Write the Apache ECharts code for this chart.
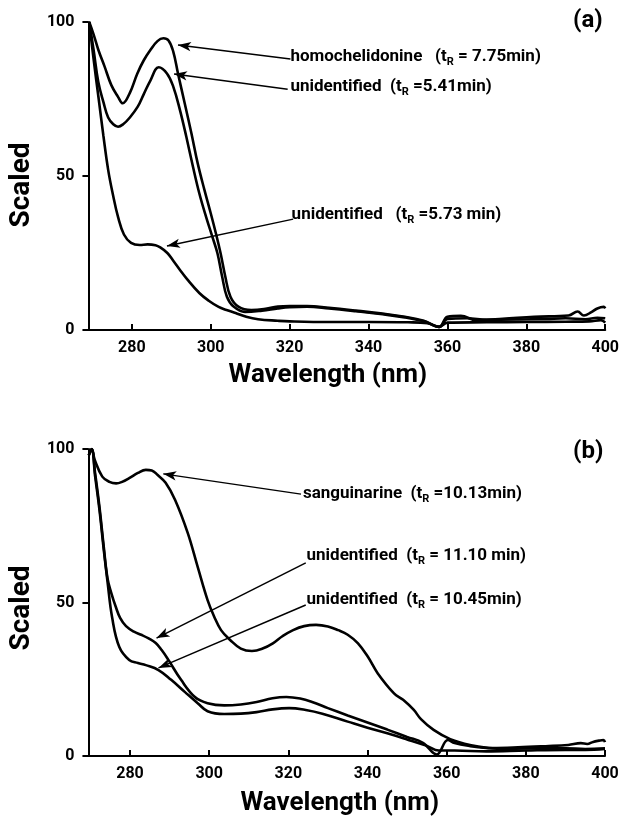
<!DOCTYPE html>
<html>
<head>
<meta charset="utf-8">
<script src="https://cdn.jsdelivr.net/npm/echarts@6/dist/echarts.min.js"></script>
<style>
  html, body { margin: 0; padding: 0; background: #fff; }
  #chart { width: 622px; height: 817px; }
</style>
</head>
<body>
<div id="chart"></div>
<script>
// ---------- data ----------
const xTicks = [280, 300, 320, 340, 360, 380, 400];
const yTicks = [0, 50, 100];

// panel (a)
const homoX = [269.2, 270.3, 271.5, 273.1, 274.8, 276.5, 277.7, 279.5, 281.4, 283, 284.7, 286.5, 288, 289.3, 290.5, 291.7, 293.4, 295.1, 296.7, 298.4, 300, 301.3, 302.5, 303.7, 305, 307, 310.3, 313.5, 317, 320, 324.4, 330, 336.8, 343, 349.2, 354, 357.9, 360, 363.4, 367.3, 374, 382, 390.7, 393, 394.6, 396.5, 398, 399.6, 400];
const homoY = [100, 96, 91, 85.5, 79.5, 75.7, 73.6, 77, 83.3, 87.5, 90.9, 93.8, 94.7, 94, 90.4, 83.3, 73.6, 63.9, 54.1, 45.5, 37.9, 31.4, 24.9, 17.3, 10.8, 7.6, 6.5, 6.8, 7.6, 7.8, 7.8, 7.2, 6.3, 5.4, 4.3, 3, 1, 4.3, 4.6, 3.2, 3.6, 4.3, 4.7, 6, 4.7, 5.8, 7, 7.5, 7];

const u541X = [269.2, 270.3, 271.5, 272.8, 274, 275.3, 276.5, 277.8, 279.5, 281.5, 283, 284.7, 286.8, 288.9, 290.5, 292.2, 293.8, 295.5, 297.1, 298.8, 300.4, 301.7, 302.9, 304.1, 305.8, 308.7, 313, 317, 320, 324.4, 330, 336.8, 343, 349.2, 354, 357.9, 360, 365, 370, 378, 385, 390, 395, 398, 400];
const u541Y = [100, 91, 80.5, 74, 69, 66.8, 66, 66.8, 69, 72.5, 76.5, 81, 85.3, 83.3, 79, 71.4, 62.8, 53, 44.4, 36.8, 30.3, 24.9, 17.3, 10.8, 7.6, 5.9, 6.3, 7, 7.4, 7.6, 7, 6.1, 5.2, 4.1, 2.8, 1, 3.6, 3.8, 3.3, 3.4, 3.6, 3.8, 3.5, 4, 3.8];

const u573X = [269.2, 270.3, 271.6, 272.8, 274, 275.2, 276.5, 278, 279.8, 282, 284, 286, 287.2, 289, 290.5, 292.2, 294, 297.1, 299.5, 302, 304, 306.3, 309, 312, 317, 320, 330, 340, 350, 355, 357.9, 360, 370, 380, 390, 396, 398.9, 400];
const u573Y = [100, 88, 75, 63, 52, 44, 36.7, 31, 28.3, 27.6, 27.8, 27.5, 26.8, 25, 22.5, 19.5, 16.5, 12, 9.5, 7.5, 6.5, 5.5, 4.3, 3.5, 3, 2.8, 2.6, 2.6, 2.5, 2.2, 1, 2.4, 2.5, 2.6, 2.7, 2.8, 3.2, 2.4];

// panel (b)
const sangX = [269.6, 270.3, 271.1, 273, 274.8, 276.5, 278, 279.8, 282, 284, 285.5, 287, 289, 291.4, 294.6, 297.1, 299.6, 301.3, 303, 305.3, 308, 310.8, 313.5, 316.2, 318.5, 321.2, 324, 327, 330, 332.6, 335, 337.6, 340.1, 342.6, 346.7, 349, 351.7, 353.5, 356.7, 360.9, 365.9, 371.6, 378, 385, 390.7, 393.9, 395.5, 397, 398.5, 399.6, 400];
const sangY = [98, 100, 96.4, 91, 89.3, 88.8, 89.3, 90.5, 92.2, 93.2, 93, 91.5, 89, 83.4, 72.6, 61.6, 50.8, 45.3, 41, 37.8, 35, 34.2, 35, 36.8, 39, 41, 42.3, 42.7, 42.2, 41, 39.5, 36.7, 32.3, 26.9, 20.4, 18.3, 15, 12, 8.5, 5.5, 3.6, 2.6, 2.8, 3.2, 3.6, 4.2, 3.9, 4.6, 5, 5.2, 4.5];

const u1110X = [269.6, 270.3, 271.2, 272.3, 273.3, 274.3, 275.3, 276.4, 277.5, 279, 281, 283, 284.7, 286.5, 288, 289.7, 292.9, 296.4, 299.6, 303.8, 308, 312, 316, 319.5, 323, 326, 330, 335, 340, 345, 350, 354, 357.5, 360.3, 362, 366, 370, 375, 380, 390, 395, 400];
const u1110Y = [98, 100, 92, 81, 69, 58, 53, 48.6, 45, 42.3, 40.5, 39.4, 38.3, 36.8, 34.5, 31.3, 24.8, 19.2, 17.2, 16.5, 16.8, 17.6, 18.8, 19.2, 18.7, 17.6, 15.6, 13.2, 10.9, 8.6, 6.2, 4.3, 0.5, 5.2, 4.2, 3.2, 2.6, 2.3, 2.5, 2.5, 2.3, 2.5];

const u1045X = [269.6, 270.3, 271.2, 272.3, 273.3, 274.3, 275.5, 277.3, 279.8, 282, 284, 287.2, 290.4, 293.9, 297.1, 299.6, 303.8, 308, 312, 316, 320.2, 324.4, 328.6, 335, 340, 345, 350, 355, 358, 362, 370, 380, 390, 395, 400];
const u1045Y = [98, 100, 91, 80, 68, 57, 45, 35.5, 31.3, 30.3, 29.6, 28, 24.8, 20.8, 17.2, 14.6, 13.7, 13.8, 14.3, 15.2, 15.6, 15, 13.8, 11.2, 9.2, 7.4, 5.4, 3.3, 1.8, 1.8, 1.5, 1.8, 2, 2, 2.3];

// annotations (data coordinates)
const annoNamesA = ['homochelidonine   ', 'unidentified  ', 'unidentified   '];
const annoTimesA = [' = 7.75min)', ' =5.41min)', ' =5.73 min)'];
const annoPosA = [[320.2, 88.6], [320.2, 78.9], [320.5, 37.3]];
const arrowFromA = [[320.2, 88], [319.5, 78.2], [320.9, 36]];
const arrowToA = [[291.7, 92.5], [290.7, 83.1], [288.9, 27.3]];

const annoNamesB = ['sanguinarine  ', 'unidentified  ', 'unidentified  '];
const annoTimesB = [' =10.13min)', ' = 11.10 min)', ' = 10.45min)'];
const annoPosB = [[323.7, 85.3], [324.6, 65.1], [324.6, 50.8]];
const arrowFromB = [[323.2, 85.3], [324.4, 62.9], [324.4, 49.2]];
const arrowToB = [[288.4, 91.9], [286.7, 38.4], [287.2, 28.7]];

// ---------- styling ----------
const FONT = "Roboto, 'Noto Sans', sans-serif";
const pairs = (xs, ys) => xs.map((x, i) => [x, ys[i]]);

function xAxisCfg(idx, min, namePad) {
  return {
    type: 'value', gridIndex: idx, min: min, max: 400,
    axisLine: { show: true, onZero: false, lineStyle: { color: '#000', width: 2 } },
    axisTick: { show: true, inside: true, length: 6, customValues: xTicks, lineStyle: { color: '#000', width: 2 } },
    axisLabel: { customValues: xTicks, color: '#000', fontSize: 16, fontWeight: 'bold', fontFamily: FONT, margin: 10 },
    splitLine: { show: false },
    name: 'Wavelength (nm)', nameLocation: 'middle', nameGap: idx === 0 ? 32 : 34,
    nameTextStyle: { color: '#000', fontSize: 26, fontWeight: 'bold', fontFamily: FONT, padding: namePad }
  };
}
function yAxisCfg(idx, namePad) {
  return {
    type: 'value', gridIndex: idx, min: 0, max: 100, interval: 50,
    axisLine: { show: true, lineStyle: { color: '#000', width: 2 } },
    axisTick: { show: true, inside: false, length: 6, lineStyle: { color: '#000', width: 2 } },
    axisLabel: { color: '#000', fontSize: 16, fontWeight: 'bold', fontFamily: FONT, margin: 14 },
    splitLine: { show: false },
    name: 'Scaled', nameLocation: 'middle', nameGap: 45,
    nameTextStyle: { color: '#000', fontSize: 28, fontWeight: 'bold', fontFamily: FONT, padding: namePad }
  };
}
function curve(idx, xs, ys) {
  return {
    type: 'line', xAxisIndex: idx, yAxisIndex: idx, data: pairs(xs, ys),
    showSymbol: false, symbol: 'none', smooth: 0.4,
    lineStyle: { color: '#000', width: 2.6 }, silent: true, z: 3
  };
}
const rich = {
  a: { fontSize: 17, fontWeight: 'bold', fontFamily: FONT, color: '#000', lineHeight: 22 },
  s: { fontSize: 11, fontWeight: 'bold', fontFamily: FONT, color: '#000', lineHeight: 11, verticalAlign: 'bottom' }
};
function annotations(idx, names, times, pos, from, to) {
  return {
    type: 'scatter', xAxisIndex: idx, yAxisIndex: idx, symbolSize: 0, silent: true,
    itemStyle: { opacity: 1 },
    data: pos.map((p, i) => ({
      value: p,
      label: { show: true, position: 'right', distance: 0, color: '#000', textBorderWidth: 0,
        formatter: '{a|' + names[i] + '(t}{s|R}{a|' + times[i] + '}', rich: rich }
    })),
    markLine: {
      silent: true, symbol: ['none', 'arrow'], symbolSize: [7, 13],
      lineStyle: { color: '#000', width: 1.5, type: 'solid', opacity: 1 }, label: { show: false },
      data: from.map((f, i) => [{ coord: f }, { coord: to[i] }])
    }
  };
}

const option = {
  animation: false,
  backgroundColor: '#fff',
  title: [
    { text: '(a)', left: 573, top: 9, padding: 0, textStyle: { fontSize: 24, fontWeight: 'bold', fontFamily: FONT, color: '#000' } },
    { text: '(b)', left: 573, top: 440, padding: 0, textStyle: { fontSize: 24, fontWeight: 'bold', fontFamily: FONT, color: '#000' } }
  ],
  grid: [
    { left: 77, top: 22, width: 530, height: 308 },
    { left: 79, top: 449, width: 526, height: 307 }
  ],
  xAxis: [xAxisCfg(0, 269, [0, 38, 0, 0]), xAxisCfg(1, 269.5, [0, 14, 0, 0])],
  yAxis: [yAxisCfg(0, [0, 18, 0, 0]), yAxisCfg(1, [0, 11, 0, 0])],
  series: [
    curve(0, homoX, homoY),
    curve(0, u541X, u541Y),
    curve(0, u573X, u573Y),
    annotations(0, annoNamesA, annoTimesA, annoPosA, arrowFromA, arrowToA),
    curve(1, sangX, sangY),
    curve(1, u1110X, u1110Y),
    curve(1, u1045X, u1045Y),
    annotations(1, annoNamesB, annoTimesB, annoPosB, arrowFromB, arrowToB)
  ]
};
const chart = echarts.init(document.getElementById('chart'), null, { renderer: 'canvas' });
chart.setOption(option);
</script>
</body>
</html>
